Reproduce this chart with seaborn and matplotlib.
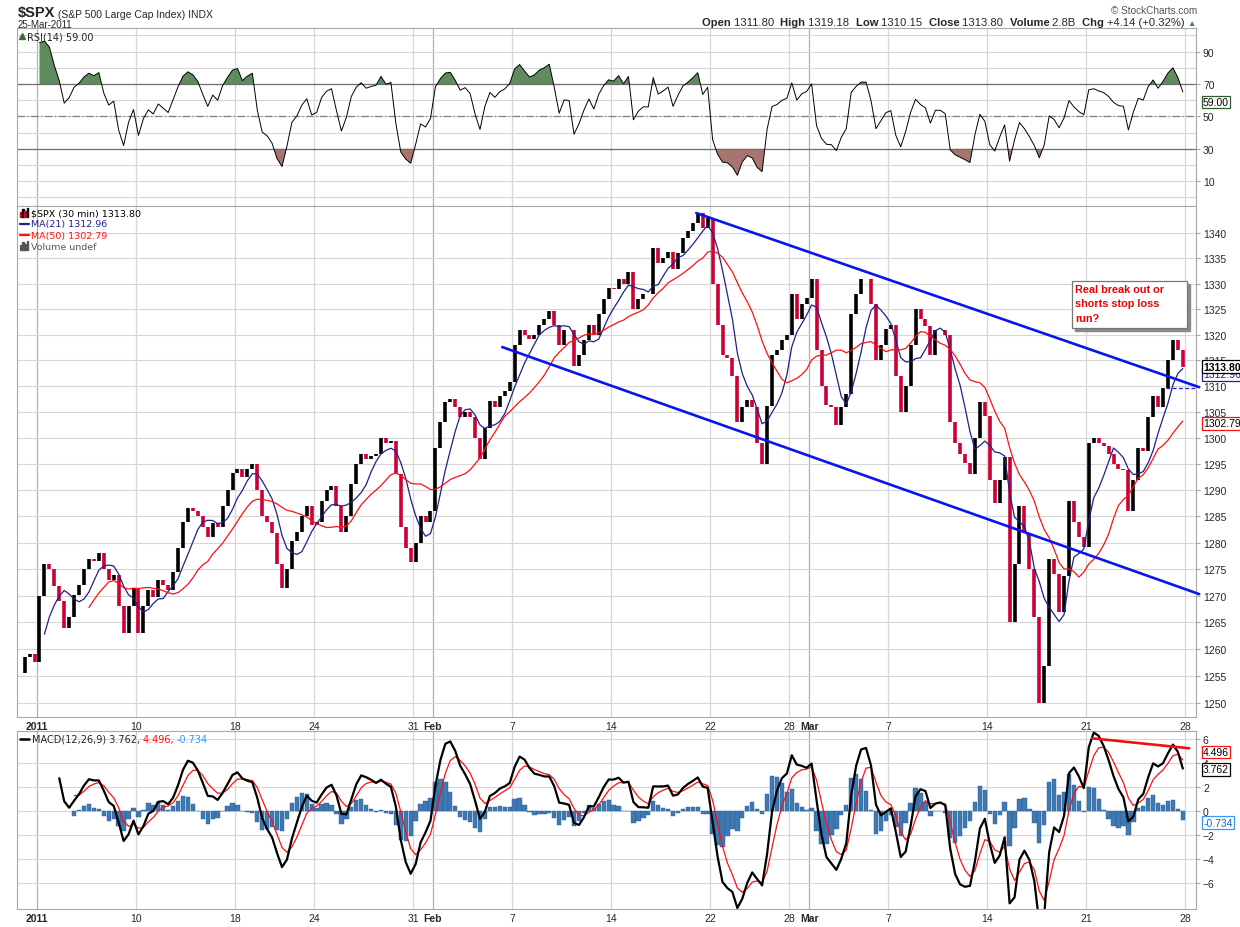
import numpy as np
import pandas as pd
import matplotlib
matplotlib.use("Agg")
import matplotlib.pyplot as plt
import matplotlib.transforms as mtransforms
from matplotlib.patches import Rectangle
from matplotlib.ticker import FixedLocator, FixedFormatter, NullLocator
import seaborn as sns

# --- data: four readings per session (30-min chart) ---
session_dates = ["Dec31", "Jan3", "Jan4", "Jan5", "Jan6", "Jan7", "Jan10", "Jan11", "Jan12",
                 "Jan13", "Jan14", "Jan18", "Jan19", "Jan20", "Jan21", "Jan24", "Jan25",
                 "Jan26", "Jan27", "Jan28", "Jan31", "Feb1", "Feb2", "Feb3", "Feb4", "Feb7",
                 "Feb8", "Feb9", "Feb10", "Feb11", "Feb14", "Feb15", "Feb16", "Feb17",
                 "Feb18", "Feb22", "Feb23", "Feb24", "Feb25", "Feb28", "Mar1", "Mar2",
                 "Mar3", "Mar4", "Mar7", "Mar8", "Mar9", "Mar10", "Mar11", "Mar14",
                 "Mar15", "Mar16", "Mar17", "Mar18", "Mar21", "Mar22", "Mar23", "Mar24",
                 "Mar25"]
session_prices = [
    [1255.5, 1258.5, 1259.0, 1257.6],
    [1270.0, 1276.0, 1275.0, 1271.9],
    [1269.0, 1264.0, 1266.0, 1270.2],
    [1272.0, 1275.0, 1277.0, 1276.6],
    [1278.0, 1275.0, 1273.0, 1273.9],
    [1268.0, 1263.0, 1268.0, 1271.5],
    [1263.0, 1268.0, 1271.0, 1269.8],
    [1273.0, 1272.0, 1271.0, 1274.5],
    [1279.0, 1284.0, 1286.5, 1286.0],
    [1285.0, 1283.0, 1281.0, 1283.8],
    [1283.0, 1287.0, 1290.0, 1293.2],
    [1294.0, 1292.5, 1294.0, 1295.0],
    [1290.0, 1285.0, 1284.0, 1281.9],
    [1276.0, 1271.5, 1275.0, 1280.3],
    [1282.0, 1285.0, 1287.0, 1283.4],
    [1284.0, 1288.0, 1290.0, 1290.8],
    [1287.0, 1282.0, 1285.0, 1291.2],
    [1295.0, 1297.0, 1296.0, 1296.6],
    [1297.0, 1300.0, 1299.0, 1299.5],
    [1293.0, 1283.0, 1279.0, 1276.3],
    [1280.0, 1285.0, 1284.0, 1286.1],
    [1298.0, 1303.0, 1307.0, 1307.6],
    [1306.0, 1304.0, 1305.0, 1304.0],
    [1300.0, 1296.0, 1302.0, 1307.1],
    [1306.0, 1308.0, 1309.0, 1310.9],
    [1318.0, 1321.0, 1320.0, 1319.1],
    [1320.0, 1322.0, 1323.0, 1324.6],
    [1322.0, 1318.0, 1321.0, 1320.9],
    [1314.0, 1316.0, 1319.0, 1321.9],
    [1320.0, 1324.0, 1327.0, 1329.2],
    [1329.0, 1331.0, 1330.0, 1332.3],
    [1325.0, 1327.0, 1328.0, 1328.0],
    [1337.0, 1334.0, 1335.0, 1336.3],
    [1333.0, 1336.0, 1339.0, 1340.4],
    [1342.0, 1344.0, 1341.0, 1343.0],
    [1330.0, 1322.0, 1316.0, 1315.4],
    [1312.0, 1303.0, 1306.0, 1307.4],
    [1306.0, 1299.0, 1295.0, 1306.1],
    [1316.0, 1317.0, 1319.0, 1319.9],
    [1328.0, 1323.0, 1326.0, 1327.2],
    [1331.0, 1317.0, 1310.0, 1306.3],
    [1306.0, 1302.5, 1306.0, 1308.4],
    [1324.0, 1328.0, 1331.0, 1331.0],
    [1326.0, 1315.0, 1318.0, 1321.2],
    [1322.0, 1312.0, 1305.0, 1310.1],
    [1318.0, 1325.0, 1323.0, 1321.8],
    [1316.0, 1321.0, 1321.0, 1320.0],
    [1303.0, 1299.0, 1297.0, 1295.1],
    [1293.0, 1300.0, 1307.0, 1304.3],
    [1292.0, 1287.5, 1292.0, 1296.4],
    [1265.0, 1276.0, 1287.0, 1281.9],
    [1275.0, 1266.0, 1250.0, 1256.9],
    [1277.0, 1274.0, 1267.0, 1273.7],
    [1288.0, 1284.0, 1281.0, 1279.2],
    [1299.0, 1300.0, 1299.0, 1298.4],
    [1297.0, 1295.0, 1294.0, 1293.8],
    [1286.0, 1292.0, 1298.0, 1297.5],
    [1304.0, 1308.0, 1306.0, 1309.7],
    [1315.0, 1319.0, 1317.0, 1313.8],
]

# x axis: trading-day index (Jan 3 = 0)
tick_days = [0, 5, 10, 14, 19, 20, 24, 29, 34, 38, 39, 43, 48, 53, 58]
tick_labels = ["2011", "10", "18", "24", "31", "Feb", "7", "14", "22", "28", "Mar",
               "7", "14", "21", "28"]
month_days = [0, 20, 39]

# hand-drawn lines on the chart
upper_channel_x = [33.3, 58.7]
upper_channel_y = [1344.0, 1309.8]
lower_channel_x = [23.5, 58.7]
lower_channel_y = [1317.6, 1270.3]
last_level_x = [57.0, 58.54]
last_level_y = [1309.7, 1309.7]
macd_line_x = [53.3, 58.2]
macd_line_y = [6.08, 5.25]

price_ticks = list(range(1250, 1345, 5))
rsi_ticks = [10, 30, 50, 70, 90]
macd_ticks = [-6, -4, -2, 0, 2, 4, 6]

# --- derived series ---
prices = np.array(session_prices).ravel()
n = len(prices)
xs = -1 + (np.arange(n) + 0.5) / 4.0
px = pd.Series(prices)
ma21 = px.rolling(6).mean()
ma50 = px.rolling(15).mean()

delta = px.diff()
gain = delta.clip(lower=0).ewm(alpha=1 / 7, adjust=False).mean()
loss = (-delta.clip(upper=0)).ewm(alpha=1 / 7, adjust=False).mean()
rsi = 100 - 100 / (1 + gain / loss)
rsi[:4] = np.nan

macd = px.ewm(span=3.7, adjust=False).mean() - px.ewm(span=8, adjust=False).mean()
signal = macd.ewm(span=4.0, adjust=False).mean()
hist = macd - signal
macd[:8] = np.nan
signal[:11] = np.nan
hist[:11] = np.nan

# --- figure ---
sns.set_style("white")
plt.rcParams["font.family"] = ["Liberation Sans", "DejaVu Sans"]

W, H = 1240, 928
fig = plt.figure(figsize=(W / 100, H / 100), dpi=100)
L = 17 / W
AW = (1196 - 17) / W
ax_rsi = fig.add_axes([L, 1 - 207 / H, AW, 178 / H])
ax_px = fig.add_axes([L, 1 - 718 / H, AW, 511 / H])
ax_macd = fig.add_axes([L, 1 - 910 / H, AW, 178 / H])
ax_bg = fig.add_axes([0, 0, 1, 1], zorder=5)
ax_bg.axis("off")
ax_bg.set_xlim(0, 1)
ax_bg.set_ylim(0, 1)

GRID = "#d6d6d6"
for ax in (ax_rsi, ax_px, ax_macd):
    ax.set_xlim(-1.01, 58.54)
    for s in ax.spines.values():
        s.set_color("#a8a8a8")
    for d in tick_days:
        ax.axvline(d, color="#b0b0b0" if d in month_days else GRID, lw=0.9, zorder=0)
    ax.yaxis.tick_right()
    ax.tick_params(axis="y", length=3, color="#a8a8a8", labelsize=7.5, pad=2)
    ax.tick_params(axis="x", length=0, labelsize=7.5, pad=3)
    ax.set_xticks(tick_days)
    ax.set_xticklabels(tick_labels)
    for lab in ax.get_xticklabels():
        if lab.get_text() in ("2011", "Feb", "Mar"):
            lab.set_fontweight("bold")
ax_rsi.set_xticklabels([])

# RSI panel
ax_rsi.set_ylim(-5.3, 104.6)
for v in range(0, 101, 10):
    ax_rsi.axhline(v, color=GRID, lw=0.8, zorder=0)
ax_rsi.axhline(70, color="#6e6e6e", lw=0.9)
ax_rsi.axhline(30, color="#6e6e6e", lw=0.9)
ax_rsi.axhline(50, color="#808080", lw=0.9, ls=(0, (6, 2, 1, 2)))
ax_rsi.fill_between(xs, 70, rsi, where=rsi > 70, interpolate=True, color="#5e8c5e", lw=0)
ax_rsi.fill_between(xs, 30, rsi, where=rsi < 30, interpolate=True, color="#a87470", lw=0)
sns.lineplot(x=xs, y=rsi, ax=ax_rsi, color="black", lw=0.7)
ax_rsi.set_yticks(rsi_ticks)

# price panel
ax_px.set_yscale("log")
ax_px.set_ylim(1247.4, 1345.4)
ax_px.yaxis.set_major_locator(FixedLocator(price_ticks))
ax_px.yaxis.set_major_formatter(FixedFormatter([str(t) for t in price_ticks]))
ax_px.yaxis.set_minor_locator(NullLocator())
for t in price_ticks:
    ax_px.axhline(t, color=GRID, lw=0.8, zorder=0)
prev = np.r_[prices[0], prices[:-1]]
up = prices >= prev
ax_px.vlines(xs[up], prev[up], prices[up], color="black", lw=2.6, zorder=2)
ax_px.vlines(xs[~up], prev[~up], prices[~up], color="#cc0033", lw=2.6, zorder=2)
sns.lineplot(x=xs, y=ma21, ax=ax_px, color="#20208c", lw=0.9, zorder=3)
sns.lineplot(x=xs, y=ma50, ax=ax_px, color="#ff1010", lw=0.9, zorder=3)
ax_px.plot(upper_channel_x, upper_channel_y, color="#0a14f0", lw=1.9, zorder=4, clip_on=False)
ax_px.plot(lower_channel_x, lower_channel_y, color="#0a14f0", lw=1.9, zorder=4, clip_on=False)
ax_px.plot(last_level_x, last_level_y, color="#1a1ad0", lw=0.9, ls=(0, (3, 2)), zorder=4)

# MACD panel
ax_macd.set_ylim(-8.14, 6.69)
for t in macd_ticks:
    ax_macd.axhline(t, color=GRID, lw=0.8, zorder=0)
ax_macd.bar(xs, hist, width=0.22, color="#3f79b4", edgecolor="#2b5d92", lw=0.3, zorder=2)
sns.lineplot(x=xs, y=signal, ax=ax_macd, color="#ff1010", lw=0.9, zorder=3)
sns.lineplot(x=xs, y=macd, ax=ax_macd, color="black", lw=1.6, zorder=4)
ax_macd.plot(macd_line_x, macd_line_y, color="#ee1111", lw=1.9, zorder=5, clip_on=False)
ax_macd.set_yticks(macd_ticks)

for ax in (ax_rsi, ax_px, ax_macd):
    ax.set_ylabel("")
    ax.set_xlabel("")


# right-hand value boxes
def value_box(ax, y, text, ec, tc, weight="normal", z=10):
    tr = mtransforms.blended_transform_factory(ax.transAxes, ax.transData)
    ax.text(1.006, y, text, transform=tr, ha="left", va="center", fontsize=7.5,
            color=tc, fontweight=weight, zorder=z, clip_on=False,
            bbox=dict(boxstyle="square,pad=0.12", fc="white", ec=ec, lw=0.9))


value_box(ax_rsi, 59.0, "59.00", "#2e5e2e", "black")
value_box(ax_px, 1312.3, "1312.96", "#20208c", "#20208c", z=10)
value_box(ax_px, 1313.8, "1313.80", "black", "black", "bold", z=11)
value_box(ax_px, 1302.79, "1302.79", "#ff1010", "black")
value_box(ax_macd, 4.95, "4.496", "#ff1010", "black")
value_box(ax_macd, 3.50, "3.762", "black", "black")
value_box(ax_macd, -0.95, "-0.734", "#3399ff", "#1a66cc")


# panel legends
def fx(p):
    return p / W


def fy(p):
    return 1 - p / H


ax_bg.text(fx(27), fy(37), "RSI(14) 59.00", fontsize=7, family="DejaVu Sans", va="center")
ax_bg.plot([fx(22)], [fy(37)], marker="^", ms=5, color="#3e6e3e")
legend_rows = [("$SPX (30 min) 1313.80", "black", 214), ("MA(21) 1312.96", "#20208c", 225),
               ("MA(50) 1302.79", "#ff1010", 236), ("Volume undef", "#555555", 247)]
for txt, col, yy in legend_rows:
    ax_bg.text(fx(31), fy(yy), txt, fontsize=6.8, family="DejaVu Sans", color=col, va="center")
ax_bg.plot([fx(20), fx(29)], [fy(225), fy(225)], color="#20208c", lw=1.6)
ax_bg.plot([fx(20), fx(29)], [fy(236), fy(236)], color="#ff1010", lw=1.6)
for k, hh in enumerate([5, 8, 6, 9]):
    ax_bg.add_patch(Rectangle((fx(20 + 2.2 * k), fy(251)), fx(1.5), hh / H, color="#555555"))
    ax_bg.add_patch(Rectangle((fx(20 + 2.2 * k), fy(218)), fx(1.5), hh / H,
                              color="black" if k % 2 else "#cc0033"))
ax_bg.plot([fx(20), fx(29)], [fy(740), fy(740)], color="black", lw=1.8)
t1 = ax_bg.text(fx(32), fy(740), "MACD(12,26,9) 3.762, ", fontsize=7, family="DejaVu Sans",
                va="center")
t2 = ax_bg.annotate("4.496, ", xy=(1, 0.5), xycoords=t1, fontsize=7, family="DejaVu Sans",
                    color="#ff1010", va="center")
ax_bg.annotate("-0.734", xy=(1, 0.5), xycoords=t2, fontsize=7, family="DejaVu Sans",
               color="#3399ff", va="center")

# header
h1 = ax_bg.text(fx(18), fy(17), "$SPX", fontsize=10.5, fontweight="bold")
ax_bg.annotate(" (S&P 500 Large Cap Index) INDX", xy=(1, 0), xycoords=h1, fontsize=7.5,
               va="bottom")
ax_bg.text(fx(18), fy(28), "25-Mar-2011", fontsize=7)
ax_bg.text(fx(1197), fy(14), "\u00a9 StockCharts.com", fontsize=7.2, color="#555555", ha="right")
pieces = [("Open ", "bold"), ("1311.80  ", "normal"), ("High ", "bold"), ("1319.18  ", "normal"),
          ("Low ", "bold"), ("1310.15  ", "normal"), ("Close ", "bold"), ("1313.80  ", "normal"),
          ("Volume ", "bold"), ("2.8B  ", "normal"), ("Chg ", "bold"), ("+4.14 (+0.32%) ", "normal")]
anchor = ax_bg.text(fx(1196), fy(26.5), "\u25b2", fontsize=6, color="#2e8b2e", ha="right")
for txt, wt in reversed(pieces):
    anchor = ax_bg.annotate(txt, xy=(0, 0), xycoords=anchor, fontsize=8.1, fontweight=wt,
                            ha="right", va="bottom")

# annotation box
bx0, bx1, by0, by1 = fx(1072), fx(1187), fy(329), fy(282)
ax_bg.add_patch(Rectangle((bx0 + fx(3), by0 - 3 / H), bx1 - bx0, by1 - by0, color="#8a8a8a",
                          zorder=6))
ax_bg.add_patch(Rectangle((bx0, by0), bx1 - bx0, by1 - by0, fc="white", ec="#777777", lw=0.9,
                          zorder=7))
ax_bg.text(fx(1075), fy(285), "Real break out or\nshorts stop loss\nrun?", fontsize=7.8,
           fontweight="bold", color="#ee0000", va="top", linespacing=1.55, zorder=8)

fig.savefig("out.png", dpi=100)
